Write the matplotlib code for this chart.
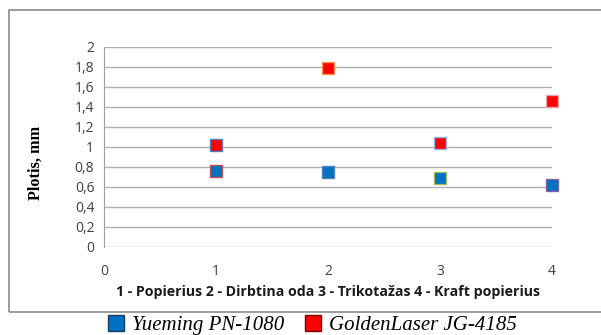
import matplotlib
matplotlib.use("Agg")
import matplotlib.pyplot as plt
from matplotlib.patches import Rectangle
from matplotlib.lines import Line2D

categories = [1, 2, 3, 4]
yueming = [0.76, 0.75, 0.69, 0.62]
goldenlaser = [1.02, 1.79, 1.04, 1.46]
y_ticks = [0, 0.2, 0.4, 0.6, 0.8, 1, 1.2, 1.4, 1.6, 1.8, 2]
x_ticks = [0, 1, 2, 3, 4]
series_names = ["Yueming PN-1080", "GoldenLaser JG-4185"]
x_title = "1 - Popierius 2 - Dirbtina oda 3 - Trikotažas 4 - Kraft popierius"
y_title = "Plotis, mm"

W, H = 601, 335
fig = plt.figure(figsize=(W / 100, H / 100), dpi=100)

# outer chart frame
fig.add_artist(Rectangle((9 / W, 1 - 312 / H), (W + 5 - 9) / W, (312 - 10) / H,
                         transform=fig.transFigure, fill=False,
                         edgecolor="#8c8c8c", linewidth=1.2))

ax = fig.add_axes([104 / W, 1 - 247 / H, (552 - 104) / W, 200 / H])
ax.set_xlim(0, 4)
ax.set_ylim(0, 2)
ax.set_yticks(y_ticks)
ax.set_yticklabels([f"{v:g}".replace(".", ",") for v in y_ticks])
ax.set_xticks(x_ticks)
ax.tick_params(length=0, labelsize=10, colors="#404040", pad=7)
for lab in ax.get_xticklabels() + ax.get_yticklabels():
    lab.set_family("Open Sans")
ax.tick_params(axis="x", pad=12)
ax.grid(axis="y", color="#b0b0b0", linewidth=1.0)
ax.set_axisbelow(True)
for s in ["top", "right", "bottom"]:
    ax.spines[s].set_visible(False)
ax.spines["left"].set_color("#a0a0a0")

blue = "#0070c0"
red = "#ff0000"
blue_edges = ["#c0504d", "#4f81bd", "#9bbb59", "#8064a2"]
red_edges = ["#4f81bd", "#f79646", "#8eb4e3", "#e6a0b0"]
for x, y, ec in zip(categories, yueming, blue_edges):
    ax.plot(x, y, marker="s", markersize=8.5, color=blue, markeredgecolor=ec,
            markeredgewidth=1.0, clip_on=False, zorder=3)
for x, y, ec in zip(categories, goldenlaser, red_edges):
    ax.plot(x, y, marker="s", markersize=8.5, color=red, markeredgecolor=ec,
            markeredgewidth=1.0, clip_on=False, zorder=3)

fig.text(328 / W, 1 - 292 / H, x_title, ha="center", va="center",
         fontsize=10.2, fontweight="bold", family="Open Sans", color="#1a1a1a")
fig.text(36 / W, 1 - 163 / H, y_title, ha="center", va="center", rotation=90,
         fontsize=11.7, fontweight="bold", family="Liberation Serif", color="black")

# legend below the frame
handles = [Line2D([], [], linestyle="none", marker="s", markersize=12,
                  markerfacecolor=blue, markeredgecolor="#1f3a5f"),
           Line2D([], [], linestyle="none", marker="s", markersize=12,
                  markerfacecolor=red, markeredgecolor="#7a0000")]
fig.legend(handles, series_names, loc="center", bbox_to_anchor=(311 / W, 1 - 325 / H),
           ncol=2, frameon=False, handletextpad=0.25, columnspacing=0.9,
           handlelength=1.0, borderpad=0,
           prop={"family": "Liberation Serif", "style": "italic", "size": 15})

fig.savefig("out.png", dpi=100)
